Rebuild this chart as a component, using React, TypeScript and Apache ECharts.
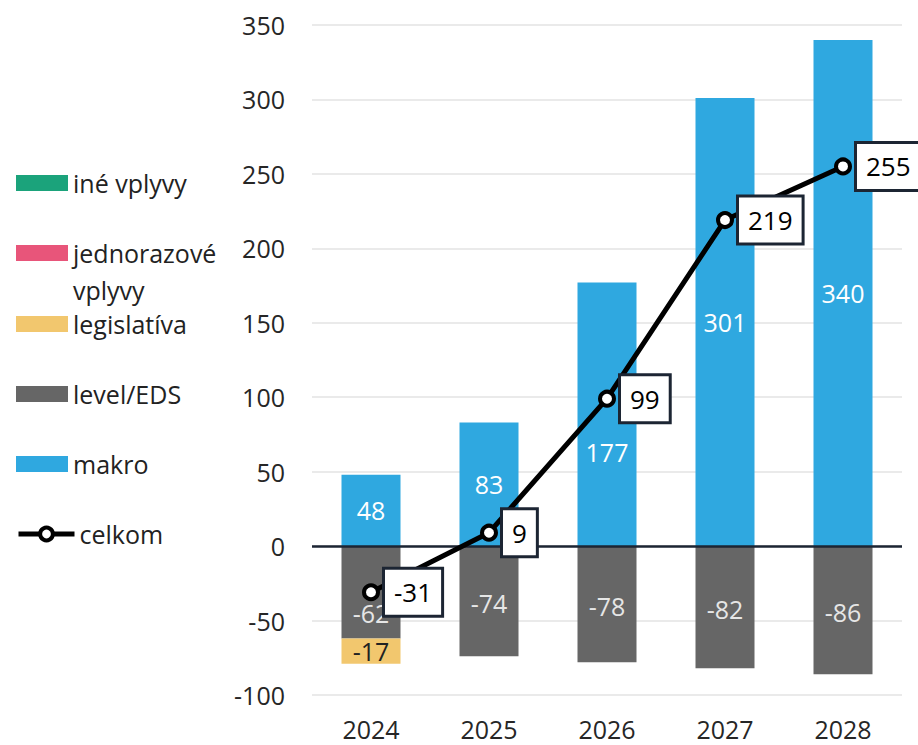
import React, { useEffect, useRef } from "react";
import * as echarts from "echarts";

const years = ["2024", "2025", "2026", "2027", "2028"];
const ineVplyvy = [0, 0, 0, 0, 0];
const jednorazove = [0, 0, 0, 0, 0];
const legislativa = [-17, 0, 0, 0, 0];
const levelEDS = [-62, -74, -78, -82, -86];
const makro = [48, 83, 177, 301, 340];
const celkom = [-31, 9, 99, 219, 255];

const FONT = "'Open Sans', 'Liberation Sans', sans-serif";

export default function App() {
  const ref = useRef<HTMLDivElement>(null);
  useEffect(() => {
    if (!ref.current) return;
    const chart = echarts.init(ref.current, undefined, { renderer: "svg" });
    const legendBase = (name: string, center: number) => ({
      data: [name],
      orient: "vertical",
      left: 16,
      top: center - 18.5,
      padding: 0,
      itemWidth: 52,
      itemHeight: 16,
      itemGap: 0,
      selectedMode: false,
      textStyle: {
        fontFamily: FONT,
        fontSize: 25,
        color: "#222",
        lineHeight: 37,
      },
    });
    const nonZero = (p: any) => (p.value === 0 ? "" : String(p.value));
    const makroData = makro.map((v, i) =>
      i === 2 ? { value: v, label: { offset: [0, 38] } } : v
    );
    const levelData = levelEDS.map((v, i) =>
      i === 0 ? { value: v, label: { offset: [0, 21] } } : v
    );
    chart.setOption({
      animation: false,
      grid: { left: 312, right: 16, top: 25, bottom: 50, containLabel: false },
      legend: [
        { ...legendBase("iné vplyvy", 183), icon: "rect" },
        { ...legendBase("jednorazové vplyvy", 253), icon: "rect", formatter: () => "jednorazové" },
        { ...legendBase("legislatíva", 324), icon: "rect" },
        { ...legendBase("level/EDS", 394), icon: "rect" },
        { ...legendBase("makro", 464), icon: "rect" },
        {
          ...legendBase("celkom", 534),
          itemWidth: 56,
          lineStyle: { width: 5, color: "#000" },
          itemStyle: { color: "#fff", borderColor: "#000", borderWidth: 4 },
        },
      ],
      graphic: [
        {
          type: "text",
          left: 73,
          top: 290 - 18.5,
          style: {
            text: "vplyvy",
            fontFamily: FONT,
            fontSize: 25,
            lineHeight: 37,
            fill: "#222",
          },
        },
      ],
      xAxis: {
        type: "category",
        data: years,
        axisLine: { show: false, onZero: false },
        axisTick: { show: false },
        axisLabel: { fontFamily: FONT, fontSize: 25, color: "#262626", margin: 21 },
      },
      yAxis: {
        type: "value",
        min: -100,
        max: 350,
        interval: 50,
        axisLine: { show: false },
        axisTick: { show: false },
        axisLabel: { fontFamily: FONT, fontSize: 25, color: "#262626", margin: 27 },
        splitLine: { lineStyle: { color: "#e3e3e3", width: 1.5 } },
      },
      series: [
        {
          name: "iné vplyvy",
          type: "bar",
          stack: "a",
          barWidth: "50%",
          data: ineVplyvy,
          itemStyle: { color: "#1ba37b" },
        },
        {
          name: "jednorazové vplyvy",
          type: "bar",
          stack: "a",
          barWidth: "50%",
          data: jednorazove,
          itemStyle: { color: "#e8557a" },
        },
        {
          name: "makro",
          type: "bar",
          stack: "a",
          barWidth: "50%",
          data: makroData,
          itemStyle: { color: "#2fa8e0" },
          label: { show: true, position: "inside", fontFamily: FONT, fontSize: 25, color: "#ffffff", formatter: nonZero },
        },
        {
          name: "level/EDS",
          type: "bar",
          stack: "a",
          barWidth: "50%",
          data: levelData,
          itemStyle: { color: "#666666" },
          label: { show: true, position: "inside", fontFamily: FONT, fontSize: 25, color: "#e6e6e6", formatter: nonZero, offset: [0, 2] },
        },
        {
          name: "legislatíva",
          type: "bar",
          stack: "a",
          barWidth: "50%",
          data: legislativa,
          itemStyle: { color: "#f2c76e" },
          label: { show: true, position: "inside", fontFamily: FONT, fontSize: 25, color: "#222", formatter: nonZero },
          markLine: {
            silent: true,
            symbol: "none",
            label: { show: false },
            lineStyle: { color: "#1c2533", width: 2.5, type: "solid" },
            data: [{ yAxis: 0 }],
          },
        },
        {
          name: "celkom",
          type: "line",
          data: celkom,
          z: 10,
          symbol: "circle",
          symbolSize: 14,
          lineStyle: { color: "#000", width: 5 },
          itemStyle: { color: "#fff", borderColor: "#000", borderWidth: 4 },
          label: {
            show: true,
            position: "right",
            distance: 5,
            fontFamily: FONT,
            fontSize: 26,
            lineHeight: 31,
            color: "#000",
            backgroundColor: "#fff",
            borderColor: "#1c2533",
            borderWidth: 3,
            padding: [7, 9],
          },
        },
      ],
    });
    return () => chart.dispose();
  }, []);
  return <div ref={ref} style={{ position: "absolute", left: 0, top: 0, width: 918, height: 745 }} />;
}
